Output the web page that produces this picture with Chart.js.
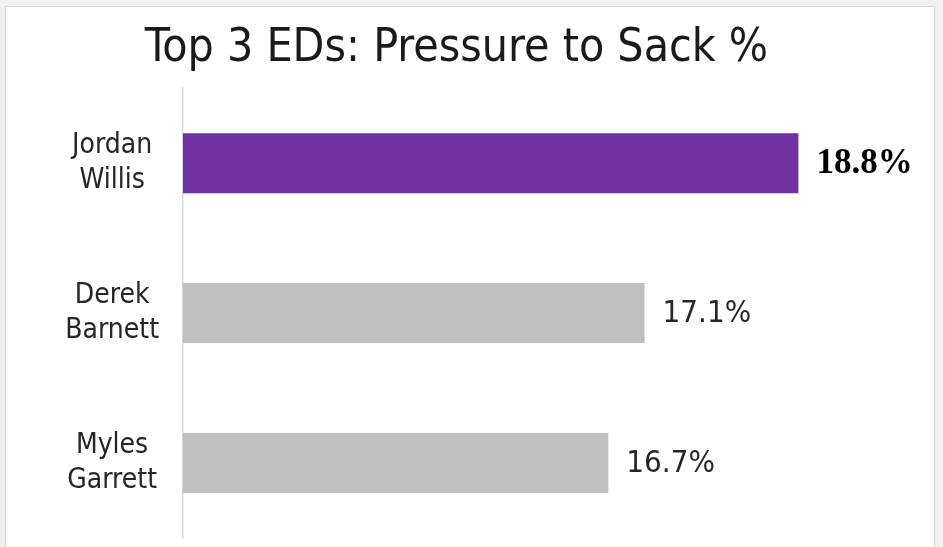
<!DOCTYPE html>
<html>
<head>
<meta charset="utf-8">
<script src="https://cdn.jsdelivr.net/npm/chart.js@4"></script>
<style>
  html, body { margin: 0; padding: 0; background: #f0f0f0; width: 943px; height: 547px; overflow: hidden; }
  #box { position: absolute; left: 5px; top: 6px; width: 928px; height: 545px; background: #fff; border: 1px solid #d6d6d6; }
  #wrap { position: relative; width: 928px; height: 540px; }
</style>
</head>
<body>
<div id="box"><div id="wrap"><canvas id="c"></canvas></div></div>
<script>
const players = [["Jordan", "Willis"], ["Derek", "Barnett"], ["Myles", "Garrett"]];
const pressureToSack = [18.8, 17.1, 16.7];
const barColors = ["#7030A0", "#BFBFBF", "#BFBFBF"];
const titleText = "Top 3 EDs: Pressure to Sack %";

const SANS = '"DejaVu Sans Condensed", "Liberation Sans Narrow", "DejaVu Sans", sans-serif';

const valueLabels = {
  id: 'valueLabels',
  afterDatasetsDraw(chart) {
    const ctx = chart.ctx;
    const meta = chart.getDatasetMeta(0);
    ctx.save();
    ctx.textBaseline = 'middle';
    ctx.textAlign = 'left';
    meta.data.forEach((bar, i) => {
      const txt = pressureToSack[i].toFixed(1) + '%';
      if (i === 0) {
        ctx.font = 'bold 35px "Liberation Serif", "DejaVu Serif", serif';
        ctx.fillStyle = '#000';
      } else {
        ctx.font = '31px ' + SANS;
        ctx.fillStyle = '#262626';
      }
      ctx.fillText(txt, bar.x + 18, bar.y + 1);
    });
    ctx.restore();
  }
};

new Chart(document.getElementById('c'), {
  type: 'bar',
  data: {
    labels: players,
    datasets: [{
      data: pressureToSack,
      backgroundColor: barColors,
      borderWidth: 0,
      barPercentage: 0.4,
      categoryPercentage: 1.0
    }]
  },
  options: {
    indexAxis: 'y',
    responsive: true,
    maintainAspectRatio: false,
    animation: false,
    devicePixelRatio: 1,
    layout: { padding: { left: 0, right: 27, top: 0, bottom: 9 } },
    plugins: {
      legend: { display: false },
      tooltip: { enabled: false },
      title: {
        display: true,
        text: titleText,
        color: '#1a1a1a',
        font: { family: SANS, size: 46, weight: 'normal', lineHeight: 1.2 },
        padding: { top: 14, bottom: 12 }
      }
    },
    scales: {
      x: { display: false, min: 12, max: 20 },
      y: {
        afterFit(scale) {
          scale.width = 177;
          scale.paddingTop = 0;
          scale.paddingBottom = 0;
        },
        grid: { display: false, drawTicks: false },
        border: { display: true, color: '#d9d9d9', width: 1.5 },
        ticks: {
          crossAlign: 'center',
          padding: 24,
          color: '#262626',
          font: { family: SANS, size: 28, lineHeight: 1.25 }
        }
      }
    }
  },
  plugins: [valueLabels]
});
</script>
</body>
</html>
